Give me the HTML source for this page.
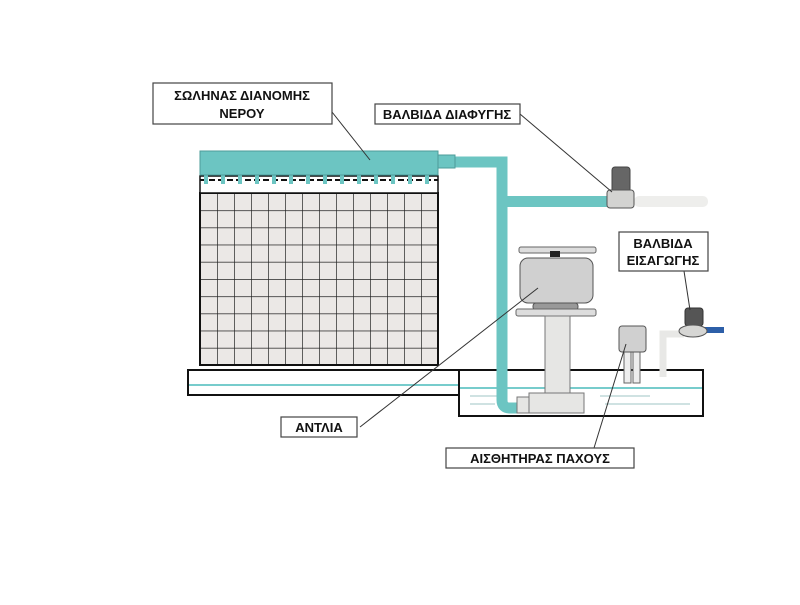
<!DOCTYPE html>
<html><head><meta charset="utf-8"><style>
body{margin:0;background:#fff;}
svg text{font-family:"Liberation Sans",sans-serif;font-size:13px;font-weight:bold;fill:#111;}
</style></head><body>
<svg width="800" height="600" viewBox="0 0 800 600" xmlns="http://www.w3.org/2000/svg">
<defs>
<pattern id="g" x="200" y="193" width="17" height="17.2" patternUnits="userSpaceOnUse">
<rect width="17" height="17.2" fill="#ebe8e6"/>
<path d="M0 0H17M0 0V17.2" stroke="#222" stroke-width="1.4"/>
</pattern>
</defs>
<!-- tray -->
<rect x="188" y="370" width="272" height="25" fill="#fff" stroke="#111" stroke-width="2"/>
<line x1="189" y1="385" x2="460" y2="385" stroke="#7cc" stroke-width="2"/>
<!-- tank -->
<rect x="459" y="370" width="244" height="46" fill="#fff" stroke="#111" stroke-width="2"/>
<line x1="460" y1="388" x2="702" y2="388" stroke="#7cc" stroke-width="2"/>
<g stroke="#bfd8d8" stroke-width="1.5">
<line x1="470" y1="396" x2="500" y2="396"/><line x1="470" y1="404" x2="495" y2="404"/>
<line x1="600" y1="396" x2="650" y2="396"/><line x1="605" y1="404" x2="690" y2="404"/>
</g>
<!-- panel -->
<rect x="200" y="193" width="238" height="172" fill="url(#g)" stroke="#111" stroke-width="2"/>
<rect x="200" y="176" width="238" height="17" fill="#fff" stroke="#111" stroke-width="1.5"/>
<line x1="200" y1="180" x2="438" y2="180" stroke="#111" stroke-width="2" stroke-dasharray="6,3"/>
<g fill="#6cc5c2">
<rect x="204" y="174" width="4" height="10"/><rect x="221" y="174" width="4" height="10"/><rect x="238" y="174" width="4" height="10"/><rect x="255" y="174" width="4" height="10"/><rect x="272" y="174" width="4" height="10"/><rect x="289" y="174" width="4" height="10"/><rect x="306" y="174" width="4" height="10"/><rect x="323" y="174" width="4" height="10"/><rect x="340" y="174" width="4" height="10"/><rect x="357" y="174" width="4" height="10"/><rect x="374" y="174" width="4" height="10"/><rect x="391" y="174" width="4" height="10"/><rect x="408" y="174" width="4" height="10"/><rect x="425" y="174" width="4" height="10"/>
</g>
<!-- teal pipes -->
<path d="M455 162H502V400Q502 408 510 408H522" fill="none" stroke="#6cc5c2" stroke-width="11"/>
<rect x="502" y="196" width="108" height="11" fill="#6cc5c2"/>
<rect x="200" y="151" width="238" height="24" fill="#6cc5c2" stroke="#4e9c9a"/>
<rect x="438" y="155" width="17" height="13" fill="#6cc5c2" stroke="#4e9c9a"/>
<!-- escape valve -->
<rect x="634" y="196" width="74" height="11" rx="5" fill="#eeeeec"/>
<rect x="612" y="167" width="18" height="25" rx="3" fill="#666" stroke="#444"/>
<rect x="607" y="190" width="27" height="18" rx="3" fill="#d3d3d1" stroke="#555"/>
<!-- pump -->
<rect x="519" y="247" width="77" height="6" rx="2" fill="#ddd" stroke="#666"/>
<rect x="550" y="251" width="10" height="6" fill="#222"/>
<rect x="520" y="258" width="73" height="45" rx="8" fill="#d0d0d0" stroke="#555"/>
<rect x="533" y="303" width="45" height="7" rx="3" fill="#999" stroke="#555"/>
<rect x="516" y="309" width="80" height="7" rx="2" fill="#ddd" stroke="#666"/>
<rect x="545" y="316" width="25" height="78" fill="#e6e6e4" stroke="#777"/>
<rect x="529" y="393" width="55" height="20" fill="#e6e6e4" stroke="#777"/>
<rect x="517" y="397" width="12" height="16" fill="#e6e6e4" stroke="#777"/>
<!-- sensor -->
<rect x="624" y="348" width="7" height="35" fill="#eee" stroke="#666"/>
<rect x="633" y="348" width="7" height="35" fill="#eee" stroke="#666"/>
<rect x="619" y="326" width="27" height="26" rx="3" fill="#d0d0d0" stroke="#555"/>
<!-- inlet valve -->
<path d="M663 377V334H684" fill="none" stroke="#e8e8e6" stroke-width="7"/>
<rect x="704" y="327" width="20" height="6" fill="#2d5fa8"/>
<rect x="685" y="308" width="18" height="18" rx="3" fill="#555" stroke="#333"/>
<ellipse cx="693" cy="331" rx="14" ry="6" fill="#d6d6d4" stroke="#555"/>
<!-- leader lines -->
<g stroke="#333" stroke-width="1">
<line x1="332" y1="112" x2="370" y2="160"/>
<line x1="520" y1="114" x2="612" y2="192"/>
<line x1="684" y1="271" x2="690" y2="310"/>
<line x1="360" y1="427" x2="538" y2="288"/>
<line x1="594" y1="448" x2="626" y2="344"/>
</g>
<!-- labels -->
<g fill="#fff" stroke="#444" stroke-width="1.2">
<rect x="153" y="83" width="179" height="41"/>
<rect x="375" y="104" width="145" height="20"/>
<rect x="619" y="232" width="89" height="39"/>
<rect x="281" y="417" width="76" height="20"/>
<rect x="446" y="448" width="188" height="20"/>
</g>
<text x="242" y="100" text-anchor="middle">ΣΩΛΗΝΑΣ ΔΙΑΝΟΜΗΣ</text>
<text x="242" y="118" text-anchor="middle">ΝΕΡΟΥ</text>
<text x="447" y="119" text-anchor="middle">ΒΑΛΒΙΔΑ ΔΙΑΦΥΓΗΣ</text>
<text x="663" y="248" text-anchor="middle">ΒΑΛΒΙΔΑ</text>
<text x="663" y="265" text-anchor="middle">ΕΙΣΑΓΩΓΗΣ</text>
<text x="319" y="432" text-anchor="middle">ΑΝΤΛΙΑ</text>
<text x="540" y="463" text-anchor="middle">ΑΙΣΘΗΤΗΡΑΣ ΠΑΧΟΥΣ</text>
</svg>
</body></html>
